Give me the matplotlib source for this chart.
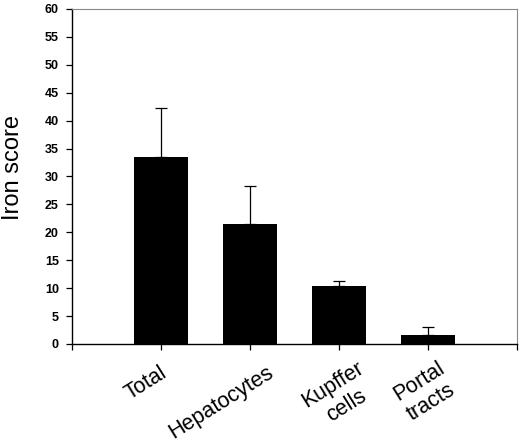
import matplotlib
matplotlib.use("Agg")
import matplotlib.pyplot as plt
import matplotlib.transforms as mtransforms
import numpy as np

categories = ["Total", "Hepatocytes", "Kupffer\ncells", "Portal\ntracts"]
means = [33.4, 21.4, 10.3, 1.6]
errors = [8.8, 6.9, 1.0, 1.5]
y_ticks = list(range(0, 61, 5))

plt.rcParams["font.family"] = ["Liberation Sans", "DejaVu Sans"]

fig = plt.figure(figsize=(5.2, 4.46), dpi=100)
ax = fig.add_axes([0.1385, 0.2287, 0.8555, 0.7513])

x = np.arange(len(categories))
ax.bar(x, means, width=0.6, color="black", zorder=2)
ax.errorbar(x, means, yerr=[np.zeros(len(errors)), errors], fmt="none",
            ecolor="black", elinewidth=0.9, capsize=4, capthick=0.9, zorder=1)

ax.set_xlim(-1, 4)
ax.set_ylim(0, 60)
ax.set_yticks(y_ticks)
ax.set_yticklabels([str(t) for t in y_ticks], fontweight="bold", fontsize=9)
ax.set_xticks([-1, 0, 1, 2, 3, 4])
ax.set_xticklabels([])

# rotated category labels, placed by hand like in the original figure
shift_px = [(-1, -18), (16, -18), (18, -14), (9, -14)]
base = ax.get_xaxis_transform()
for xi, name, (dx, dy) in zip(x, categories, shift_px):
    tr = base + mtransforms.ScaledTranslation(dx / 100, dy / 100, fig.dpi_scale_trans)
    ax.text(xi, 0, name, transform=tr, fontsize=15.5, rotation=32,
            ha="right", va="top", rotation_mode="anchor",
            multialignment="center", clip_on=False)

ax.set_ylabel("Iron score", fontsize=17)
ax.yaxis.set_label_coords(-0.108, 0.528)

for s in ["top", "right"]:
    ax.spines[s].set_color("#888888")
    ax.spines[s].set_linewidth(0.8)
for s in ["left", "bottom"]:
    ax.spines[s].set_linewidth(1.0)
ax.tick_params(axis="both", direction="out", length=4, width=0.9)
ax.tick_params(axis="y", pad=5.5)

fig.savefig("out.png", dpi=100)
